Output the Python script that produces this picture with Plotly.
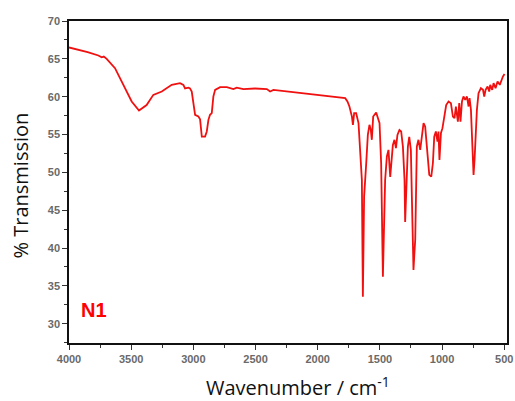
import plotly.graph_objects as go

wavenumber = [4000, 3978, 3900, 3850, 3764, 3737, 3720, 3697, 3630, 3549, 3496, 3437, 3376, 3322,
              3254, 3174, 3107, 3080, 3067, 3040, 3027, 3013, 2995, 2986, 2960, 2946, 2932, 2906,
              2892, 2879, 2866, 2852, 2839, 2825, 2785, 2731, 2678, 2651, 2598, 2504, 2409, 2383,
              2356, 2141, 1981, 1873, 1793, 1779, 1761, 1745, 1725, 1717, 1707, 1691, 1672, 1659,
              1645, 1637, 1627, 1610, 1597, 1584, 1573, 1565, 1554, 1530, 1503, 1490, 1476, 1458,
              1444, 1431, 1417, 1396, 1383, 1371, 1359, 1343, 1329, 1315, 1302, 1297, 1275, 1264,
              1251, 1243, 1235, 1230, 1224, 1216, 1203, 1190, 1176, 1162, 1149, 1136, 1128, 1117,
              1103, 1087, 1074, 1063, 1050, 1037, 1029, 1021, 1009, 997, 983, 967, 948, 929, 913,
              900, 889, 881, 873, 862, 852, 840, 828, 814, 800, 787, 779, 768, 760, 752, 747, 739,
              731, 720, 707, 688, 671, 661, 650, 634, 621, 613, 597, 586, 570, 554, 536, 524, 511, 498]
transmission = [66.5, 66.42, 66.15, 65.9, 65.44, 65.2, 65.3, 65.0, 63.77, 61.1, 59.36, 58.17, 58.9, 60.24,
                60.68, 61.56, 61.79, 61.56, 61.1, 61.2, 61.1, 60.68, 58.5, 57.6, 57.4, 57.0, 54.73, 54.73,
                55.4, 56.94, 57.6, 57.82, 60.02, 60.9, 61.26, 61.26, 61.0, 61.2, 61.0, 61.08, 61.0, 60.68,
                60.9, 60.47, 60.15, 59.94, 59.8, 59.8, 59.36, 58.7, 57.37, 56.28, 57.82, 57.82, 56.5, 53.4,
                49.0, 33.57, 46.8, 51.2, 54.95, 56.28, 55.6, 54.3, 57.37, 57.9, 56.5, 51.2, 36.2, 49.0,
                52.1, 52.97, 49.4, 53.6, 54.3, 53.2, 54.95, 55.6, 55.4, 53.4, 49.0, 43.45, 53.4, 54.7,
                52.97, 46.8, 42.4, 37.1, 38.9, 41.1, 53.4, 54.3, 52.97, 55.2, 56.5, 56.05, 54.3, 51.65,
                49.66, 49.44, 51.2, 54.7, 55.4, 54.07, 55.4, 51.65, 55.2, 55.84, 57.37, 58.9, 59.36, 59.14, 57.37,
                57.16, 58.7, 57.16, 56.7, 59.14, 56.7, 59.36, 60.02, 59.58, 60.02, 58.7, 59.8, 58.26, 55.18, 51.65, 49.66, 51.65,
                55.18, 58.26, 60.47, 61.13, 60.9, 60.02, 60.9, 61.34, 60.68, 61.56, 60.9, 61.79, 61.13, 62.0, 61.56, 62.23, 62.66, 63.0]

x_ticks = [4000, 3500, 3000, 2500, 2000, 1500, 1000, 500]
y_ticks = [30, 35, 40, 45, 50, 55, 60, 65, 70]
sample_label = "N1"
x_title = "Wavenumber / cm<sup>-1</sup>"
y_title = "% Transmission"

fig = go.Figure()
fig.add_trace(go.Scatter(x=wavenumber, y=transmission, mode="lines",
                         line=dict(color="#f01010", width=1.8), showlegend=False))

tick_font = dict(family="Liberation Sans", size=11, color="#6a6a6a", weight="bold")
common = dict(showline=True, mirror=True, linecolor="#111111", linewidth=1.5, ticks="outside",
              ticklen=5, tickcolor="#333333", showgrid=False, zeroline=False, tickfont=tick_font,
              automargin=False)
fig.update_xaxes(range=[4000, 478], tickvals=x_ticks,
                 minor=dict(dtick=250, ticks="outside", ticklen=3, tickcolor="#333333"), **common)
fig.update_yaxes(range=[27.45, 70], tickvals=y_ticks,
                 minor=dict(dtick=2.5, ticks="outside", ticklen=3, tickcolor="#333333"), **common)

title_font = dict(family="Open Sans", size=20, color="#111111")
fig.add_annotation(xref="paper", yref="paper", x=(297.5 - 69) / 438.0, y=(401 - 58 - 386) / 322.0,
                   text=x_title, showarrow=False, font=title_font, xanchor="center", yanchor="middle")
fig.add_annotation(xref="paper", yref="paper", x=(19.5 - 69) / 438.0, y=(401 - 58 - 186) / 322.0,
                   text=y_title, showarrow=False, font=title_font, textangle=-90,
                   xanchor="center", yanchor="middle")
fig.add_annotation(x=3799, y=31.8, text="<b>" + sample_label + "</b>", showarrow=False,
                   font=dict(family="Liberation Sans", size=20, color="#ff0000"))
fig.update_layout(width=515, height=401, margin=dict(l=69, r=8, t=21, b=58),
                  plot_bgcolor="white", paper_bgcolor="white")
fig.write_html("out.html", config={"displayModeBar": False},
               post_script="document.body.style.margin='0';document.body.style.overflow='hidden';")
